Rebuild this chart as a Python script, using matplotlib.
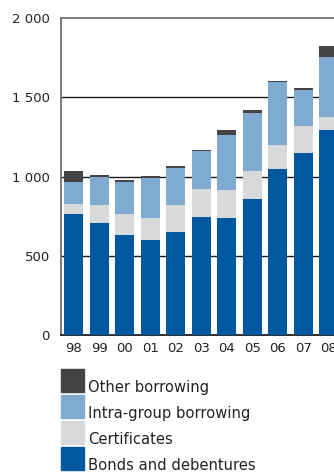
import matplotlib
matplotlib.use("Agg")
import matplotlib.pyplot as plt
from matplotlib.patches import Rectangle
import numpy as np

# Borrowing by type, NOK million, 1998-2008
years = ["98", "99", "00", "01", "02", "03", "04", "05", "06", "07", "08"]
bonds = [764, 708, 632, 601, 651, 745, 739, 858, 1047, 1148, 1292]
certificates = [63, 113, 132, 138, 170, 176, 176, 176, 151, 169, 82]
intra_group = [138, 174, 201, 251, 232, 239, 346, 365, 396, 227, 378]
other = [69, 13, 12, 15, 13, 7, 31, 19, 7, 13, 69]

series = [
    ("Bonds and debentures", bonds, "#0058a0"),
    ("Certificates", certificates, "#d8d9db"),
    ("Intra-group borrowing", intra_group, "#80abd0"),
    ("Other borrowing", other, "#444446"),
]

plt.rcParams["font.family"] = "DejaVu Sans"
text_color = "#222222"

fig = plt.figure(figsize=(3.34, 4.76), dpi=100)
# axes run past the right edge of the figure, so the last bar is clipped
ax = fig.add_axes([61 / 334, 0.2952, 280.5 / 334, 0.6676])

x = np.arange(len(years))
bottom = np.zeros(len(years))
for name, vals, color in series:
    ax.bar(x, vals, width=0.75, bottom=bottom, color=color, zorder=3)
    bottom += np.array(vals)

for y in (500, 1000, 1500):
    ax.axhline(y, color="#1a1a1a", lw=1.0, zorder=1)

ax.set_xlim(-0.5, len(years) - 0.5)
ax.set_ylim(0, 2000)
ax.set_yticks([0, 500, 1000, 1500, 2000])
ax.set_yticklabels(["0", "500", "1 000", "1 500", "2 000"])
ax.set_xticks(x)
ax.set_xticklabels(years)
ax.tick_params(axis="both", length=0, labelsize=9.5, colors=text_color)
ax.tick_params(axis="y", pad=8)
ax.tick_params(axis="x", pad=5)

ax.spines["right"].set_visible(False)
ax.spines["top"].set_color("#707070")
ax.spines["top"].set_linewidth(1.3)
ax.spines["left"].set_color("#707070")
ax.spines["left"].set_linewidth(1.3)
ax.spines["bottom"].set_color("#1a1a1a")
ax.spines["bottom"].set_linewidth(1.3)

# legend, stacked top to bottom in reverse order of the bars
W, H = 334.0, 476.0
row_top = 369
for name, vals, color in reversed(series):
    fig.patches.append(Rectangle((61 / W, 1 - (row_top + 23) / H), 23 / W, 23 / H,
                                 transform=fig.transFigure, color=color))
    fig.text(88 / W, 1 - (row_top + 23) / H, name, fontsize=10.6,
             color=text_color, ha="left", va="baseline")
    row_top += 26

fig.savefig("out.png", dpi=100)
